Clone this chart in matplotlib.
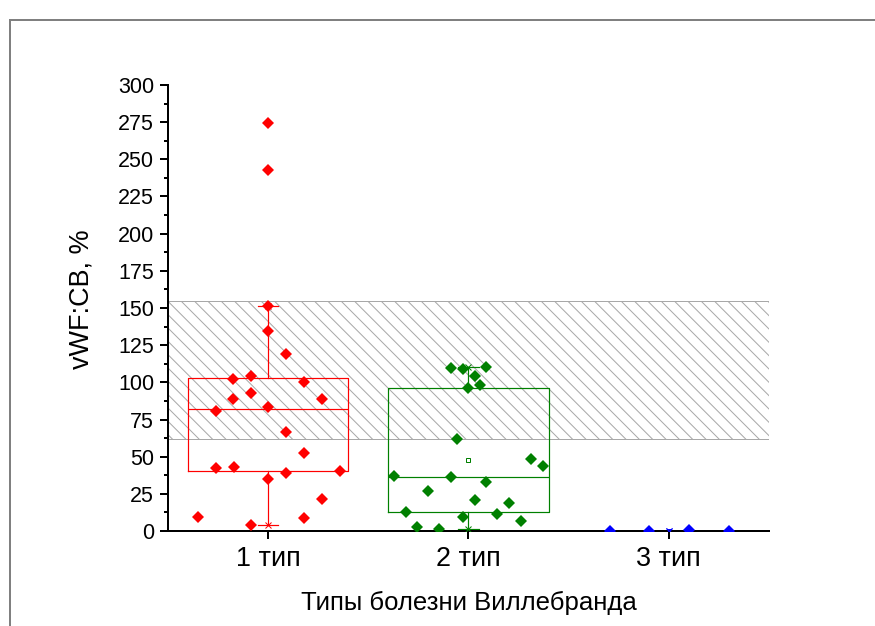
import matplotlib
matplotlib.use('Agg')
import matplotlib.pyplot as plt
from matplotlib.lines import Line2D
from matplotlib.ticker import MultipleLocator

# dpi 80 so the hatch spacing comes out close to the reference
DPI = 80


def pt(px):
    # pixel size -> points at this dpi
    return px * 72.0 / DPI


categories = ['1 тип', '2 тип', '3 тип']
colors = ['#ff0000', '#008000', '#0000ff']

# vWF:CB values per type and horizontal jitter of each point (category units)
type1_vals = [274.2, 242.8, 151.5, 134.7, 119.0, 102.0, 104.5, 100.0, 89.0, 92.6, 88.8, 80.7,
              83.6, 66.6, 52.7, 42.6, 43.3, 38.8, 40.6, 34.8, 21.5, 9.2, 8.5, 4.0]
type1_jit = [0, 0, 0, 0, 0.09, -0.175, -0.087, 0.18, -0.175, -0.087, 0.27, -0.26,
             0, 0.09, 0.18, -0.26, -0.17, 0.09, 0.36, 0, 0.27, -0.35, 0.18, -0.087]

type2_vals = [109.8, 108.7, 110.0, 104.5, 98.4, 96.0, 61.7, 48.6, 43.7, 37.0, 36.3,
              32.7, 27.1, 20.6, 18.6, 13.0, 11.4, 9.6, 6.5, 2.9, 1.1]
type2_jit = [-0.087, -0.025, 0.088, 0.03, 0.055, 0, -0.057, 0.313, 0.37, -0.373, -0.087,
             0.085, -0.2, 0.03, 0.2, -0.31, 0.14, -0.028, 0.26, -0.257, -0.145]

type3_vals = [0.0, 0.0, 1.0, 0.0]
type3_jit = [-0.295, -0.1, 0.1, 0.3]

# reference (normal) range shown as hatched band
norm_low, norm_high = 62, 155

groups = [type1_vals, type2_vals, type3_vals]
jitters = [type1_jit, type2_jit, type3_jit]

plt.rcParams['font.family'] = ['Liberation Sans', 'DejaVu Sans']
plt.rcParams['hatch.linewidth'] = 0.9

fig = plt.figure(figsize=(875 / DPI, 626 / DPI), dpi=DPI)
ax = fig.add_axes([168 / 875, 1 - 531 / 626, (769 - 168) / 875, (531 - 85) / 626])

ax.axhspan(norm_low, norm_high, facecolor='none', edgecolor='#a8a8a8', hatch='\\\\',
           lw=pt(1), zorder=0)

for i, (vals, jit, c) in enumerate(zip(groups, jitters, colors)):
    pos = i + 1
    line = dict(color=c, lw=pt(1.2))
    bp = ax.boxplot(vals, positions=[pos], widths=0.8, whis=1.5, showfliers=False,
                    showmeans=True, capwidths=0.1, manage_ticks=False,
                    boxprops=line, whiskerprops=line, capprops=line, medianprops=line,
                    meanprops=dict(marker='s', ms=pt(4.5), mfc='white', mec=c, mew=pt(1)))
    for cap in bp['caps']:
        ax.plot(cap.get_xdata().mean(), cap.get_ydata()[0], marker='x', color=c,
                ms=pt(6), mew=pt(1), zorder=3)
    ax.plot([pos + j for j in jit], vals, 'D', color=c, ms=pt(8.8), mew=0, zorder=4)

ax.set_xlim(0.5, 3.5)
ax.set_ylim(0, 300)
ax.set_xticks([1, 2, 3], categories)
ax.yaxis.set_major_locator(MultipleLocator(25))
ax.yaxis.set_minor_locator(MultipleLocator(12.5))

for s in ['top', 'right']:
    ax.spines[s].set_visible(False)
for s in ['left', 'bottom']:
    ax.spines[s].set_linewidth(pt(2))

ax.tick_params(axis='y', which='major', length=pt(8), width=pt(2), labelsize=pt(21.5), pad=pt(6))
ax.tick_params(axis='y', which='minor', length=pt(4), width=pt(2))
ax.tick_params(axis='x', which='major', length=pt(8), width=pt(2), labelsize=pt(27), pad=pt(7))

ax.set_ylabel('vWF:CB, %', fontsize=pt(27))
ax.yaxis.set_label_coords(-0.122, 0.52)
ax.set_xlabel('Типы болезни Виллебранда', fontsize=pt(25.7), labelpad=pt(19))

# grey page frame (left and top edges)
fx = 10 / 875
fy = 1 - 20 / 626
fig.add_artist(Line2D([fx, fx], [0, fy], transform=fig.transFigure, color='#808080', lw=pt(2)))
fig.add_artist(Line2D([fx, 1], [fy, fy], transform=fig.transFigure, color='#808080', lw=pt(2)))

fig.savefig('out.png', dpi=DPI)
